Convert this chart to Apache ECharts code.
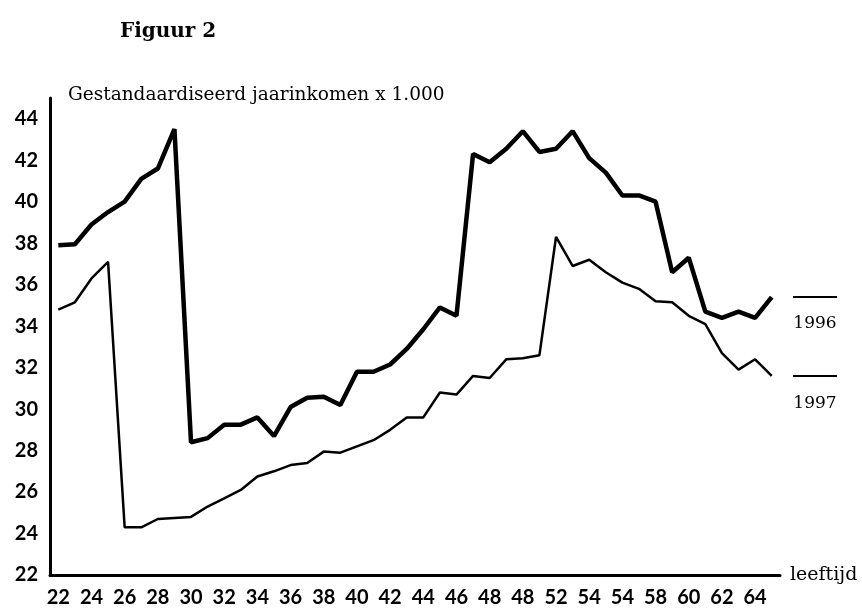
<!DOCTYPE html>
<html>
<head>
<meta charset="utf-8">
<script src="https://cdn.jsdelivr.net/npm/echarts@6/dist/echarts.min.js"></script>
<style>html,body{margin:0;padding:0;background:#fff;}#c{width:862px;height:609px;}</style>
</head>
<body>
<div id="c"></div>
<script>
const ages = [22,23,24,25,26,27,28,29,30,31,32,33,34,35,36,37,38,39,40,41,42,43,44,45,46,47,48,49,50,51,52,53,54,55,56,57,58,59,60,61,62,63,64,65];
const inc1996 = [37.9,37.95,38.9,39.5,40.0,41.1,41.6,43.5,
  28.4,28.6,29.25,29.25,29.6,28.7,30.1,30.55,30.6,30.2,
  31.8,31.8,32.15,32.9,33.85,34.9,34.5,42.3,41.9,42.55,
  43.4,42.4,42.55,43.4,42.1,41.4,40.3,40.3,40.0,36.6,
  37.3,34.7,34.4,34.7,34.4,35.4];
const inc1997 = [34.8,35.15,36.3,37.1,24.3,24.3,24.7,24.75,
  24.8,25.3,25.7,26.1,26.75,27.0,27.3,27.4,27.95,27.9,
  28.2,28.5,29.0,29.6,29.6,30.8,30.7,31.6,31.5,32.4,
  32.45,32.6,38.3,36.9,37.2,36.6,36.1,35.8,35.2,35.15,
  34.5,34.1,32.7,31.9,32.4,31.6];
// x tick labels as printed in the original figure
const xTickLabels = ['22','24','26','28','30','32','34','36','38','40','42','44','46','48','48','52','54','54','58','60','62','64'];
const yTicks = [22,24,26,28,30,32,34,36,38,40,42,44];
const seriesNames = ['1996','1997'];
const figTitle = 'Figuur 2';
const yTitle = 'Gestandaardiseerd jaarinkomen x 1.000';
const xTitle = 'leeftijd';

const chart = echarts.init(document.getElementById('c'), null, {renderer:'canvas'});
const tickFont = {fontFamily:'Lato', fontWeight:'bold', fontSize:20, color:'#000'};
const serif = 'DejaVu Serif';
chart.setOption({
  animation:false,
  backgroundColor:'#fff',
  title:[
    {text:figTitle, left:120, top:22, padding:0, textStyle:{fontFamily:serif, fontWeight:'bold', fontSize:20, color:'#000'}},
    {text:yTitle, left:68, top:86, padding:0, textStyle:{fontFamily:serif, fontWeight:'normal', fontSize:18.5, color:'#000'}}
  ],
  grid:{left:50, right:82, top:98, bottom:34, containLabel:false},
  xAxis:{
    type:'category', data:ages, boundaryGap:true,
    axisLine:{lineStyle:{color:'#000', width:3}},
    axisTick:{show:false},
    axisLabel:Object.assign({interval:1, margin:13, formatter:(v,i)=> xTickLabels[i/2] || ''}, tickFont),
    name:xTitle, nameLocation:'end', nameGap:10,
    nameTextStyle:{fontFamily:serif, fontSize:19, color:'#000', verticalAlign:'middle', padding:[0,0,14,0]}
  },
  yAxis:{
    type:'value', min:22, max:45, interval:2,
    axisLine:{show:true, lineStyle:{color:'#000', width:3}},
    axisTick:{show:false},
    splitLine:{show:false},
    axisLabel:Object.assign({margin:12, showMaxLabel:false, formatter:v=> yTicks.indexOf(v)>=0 ? String(v) : ''}, tickFont)
  },
  series:[
    {name:seriesNames[0], type:'line', data:inc1996, showSymbol:false, symbol:'none',
     lineStyle:{color:'#000', width:4.5}, z:3},
    {name:seriesNames[1], type:'line', data:inc1997, showSymbol:false, symbol:'none',
     lineStyle:{color:'#000', width:2.5}, z:2}
  ]
});
// right-hand series labels, placed at the level of each series' last value
const last96 = inc1996[inc1996.length-1], last97 = inc1997[inc1997.length-1];
const y96 = chart.convertToPixel({yAxisIndex:0}, last96);
const y97 = chart.convertToPixel({yAxisIndex:0}, last97);
const gx = 793, gw = 44;
chart.setOption({graphic:[
  {type:'line', shape:{x1:gx, y1:y96, x2:gx+gw, y2:y96}, style:{stroke:'#000', lineWidth:2}},
  {type:'text', x:gx+gw/2, y:y96+26, style:{text:seriesNames[0], fill:'#000', font:'17px "DejaVu Serif"', align:'center', verticalAlign:'middle'}},
  {type:'line', shape:{x1:gx, y1:y97, x2:gx+gw, y2:y97}, style:{stroke:'#000', lineWidth:2}},
  {type:'text', x:gx+gw/2, y:y97+28, style:{text:seriesNames[1], fill:'#000', font:'17px "DejaVu Serif"', align:'center', verticalAlign:'middle'}}
]});
</script>
</body>
</html>
